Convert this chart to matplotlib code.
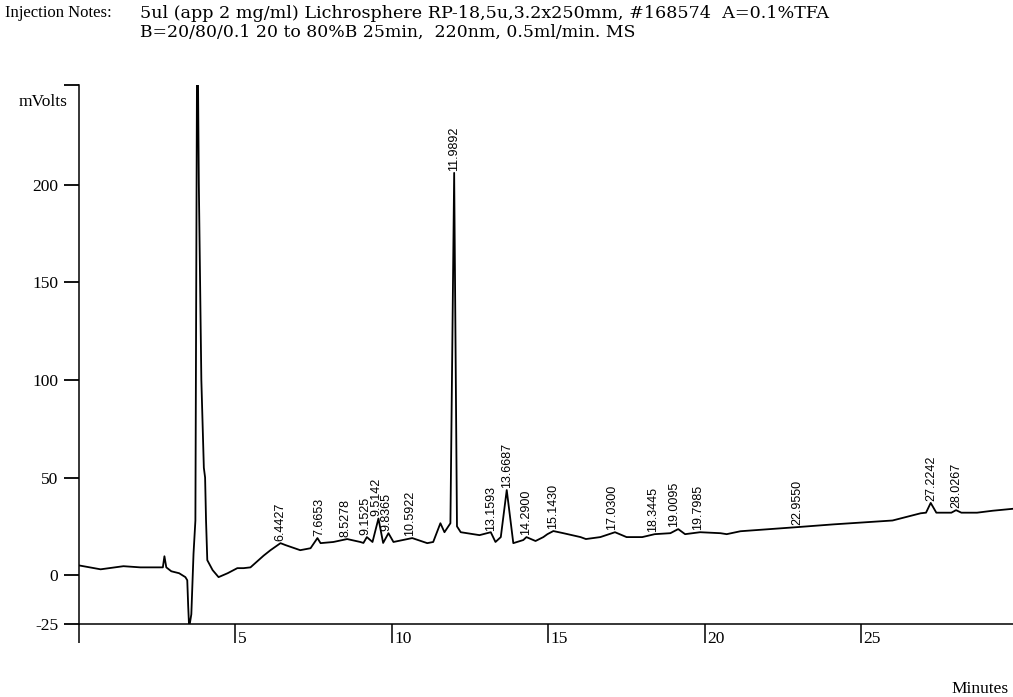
import matplotlib
matplotlib.use("Agg")
import matplotlib.pyplot as plt

# trace (minutes, mVolts)
time_min = [0.0, 0.69, 1.42, 1.96, 2.6, 2.68, 2.73, 2.79, 2.95, 3.2, 3.4, 3.46, 3.49, 3.52,
            3.59, 3.66, 3.72, 3.78, 3.83, 3.91, 3.99, 4.03, 4.06, 4.1, 4.27, 4.46, 4.75,
            5.06, 5.26, 5.48, 5.9, 6.12, 6.44, 6.6, 7.07, 7.4, 7.62, 7.72, 8.13, 8.57,
            8.99, 9.09, 9.2, 9.38, 9.57, 9.72, 9.89, 10.05, 10.65, 11.13, 11.32, 11.55,
            11.68, 11.87, 11.99, 12.08, 12.2, 12.8, 13.16, 13.31, 13.48, 13.67, 13.88,
            14.2, 14.3, 14.59, 14.84, 14.97, 15.16, 15.48, 16.03, 16.2, 16.66, 17.13,
            17.5, 18.0, 18.4, 18.9, 19.15, 19.37, 19.85, 20.5, 20.7, 21.14, 22.95, 24.1,
            26.0, 26.9, 27.07, 27.22, 27.4, 27.88, 28.03, 28.2, 28.7, 29.2, 29.85]
signal_mv = [5.0, 3.0, 4.6, 4.0, 4.0, 4.0, 9.7, 4.0, 2.0, 1.0, -1.0, -2.6, -16.0, -27.0,
             -20.0, 11.0, 28.0, 300.0, 200.0, 100.0, 55.0, 50.0, 28.0, 7.7, 2.6, -1.0, 1.0,
             3.6, 3.6, 4.0, 10.0, 12.8, 16.4, 15.4, 12.8, 13.8, 19.0, 16.4, 17.0, 18.5,
             17.0, 16.5, 19.5, 17.0, 29.0, 16.5, 21.5, 17.0, 19.0, 16.4, 17.0, 26.6,
             22.0, 26.6, 206.0, 25.0, 22.0, 20.5, 22.0, 17.0, 19.5, 43.6, 16.4,
             18.0, 19.5, 17.5, 19.5, 21.0, 22.6, 21.5, 19.5, 18.5, 19.5, 22.0,
             19.5, 19.5, 21.0, 21.5, 23.6, 21.0, 22.0, 21.5, 21.0, 22.5, 24.6, 26.0,
             28.0, 31.7, 32.0, 37.0, 32.0, 32.0, 33.3, 32.0, 32.0, 33.0, 34.0]

# integrated peaks: retention time label and apex height
peak_rt = [6.4427, 7.6653, 8.5278, 9.1525, 9.5142, 9.8365, 10.5922, 11.9892, 13.1593,
           13.6687, 14.2900, 15.1430, 17.0300, 18.3445, 19.0095, 19.7985, 22.9550,
           27.2242, 28.0267]
peak_mv = [16.4, 19.0, 18.5, 19.5, 29.0, 21.5, 19.0, 206.0, 21.5,
           43.6, 19.5, 22.6, 22.0, 21.0, 23.6, 22.0, 24.6,
           37.0, 33.3]

y_ticks = [-25, 0, 50, 100, 150, 200, 251]
y_labels = ["-25", "0", "50", "100", "150", "200", ""]
x_ticks = [0, 5, 10, 15, 20, 25]

serif = "Liberation Serif"

fig = plt.figure(figsize=(10.13, 6.97), dpi=100)
ax = fig.add_axes([79 / 1013, 73 / 697, 1 - 79 / 1013, 539 / 697])

ax.plot(time_min, signal_mv, color="black", lw=1.3)
ax.set_xlim(0, 29.85)
ax.set_ylim(-25, 251)

for s in ["top", "right"]:
    ax.spines[s].set_visible(False)
for s in ["left", "bottom"]:
    ax.spines[s].set_linewidth(1.1)

ax.set_yticks(y_ticks)
ax.set_yticklabels(y_labels, fontfamily=serif, fontsize=12.5)
ax.tick_params(axis="y", direction="out", length=11, width=1.3, pad=4)

ax.set_xticks(x_ticks)
ax.set_xticklabels([])
ax.tick_params(axis="x", direction="out", length=13.5, width=1.1)
for t in x_ticks[1:]:
    ax.annotate(str(t), xy=(t, 0), xycoords=("data", "axes fraction"),
                xytext=(1.5, -5), textcoords="offset points",
                ha="left", va="top", fontfamily=serif, fontsize=12.5)

for rt, h in zip(peak_rt, peak_mv):
    ax.annotate(f"{rt:.4f}", xy=(rt, h), xytext=(0, 1.5), textcoords="offset points",
                rotation=90, ha="center", va="bottom", fontsize=9,
                fontfamily="Liberation Sans")

fig.text(43 / 1013, 1 - 102 / 697, "mVolts", ha="center", va="center",
         fontfamily=serif, fontsize=12.5)
fig.text(1009 / 1013, 1 - 689 / 697, "Minutes", ha="right", va="center",
         fontfamily=serif, fontsize=12.5)

# header notes: the printout uses a wide serif here
fig.text(5 / 1013, 1 - 13 / 697, "Injection Notes:", ha="left", va="center",
         fontfamily=serif, fontsize=12)
fig.text(140 / 1013, 1 - 13 / 697,
         "5ul (app 2 mg/ml) Lichrosphere RP-18,5u,3.2x250mm, #168574  A=0.1%TFA",
         ha="left", va="center", fontfamily="DejaVu Serif", fontsize=12.6)
fig.text(140 / 1013, 1 - 32 / 697,
         "B=20/80/0.1 20 to 80%B 25min,  220nm, 0.5ml/min. MS",
         ha="left", va="center", fontfamily="DejaVu Serif", fontsize=12.4)

fig.savefig("out.png", dpi=100)
